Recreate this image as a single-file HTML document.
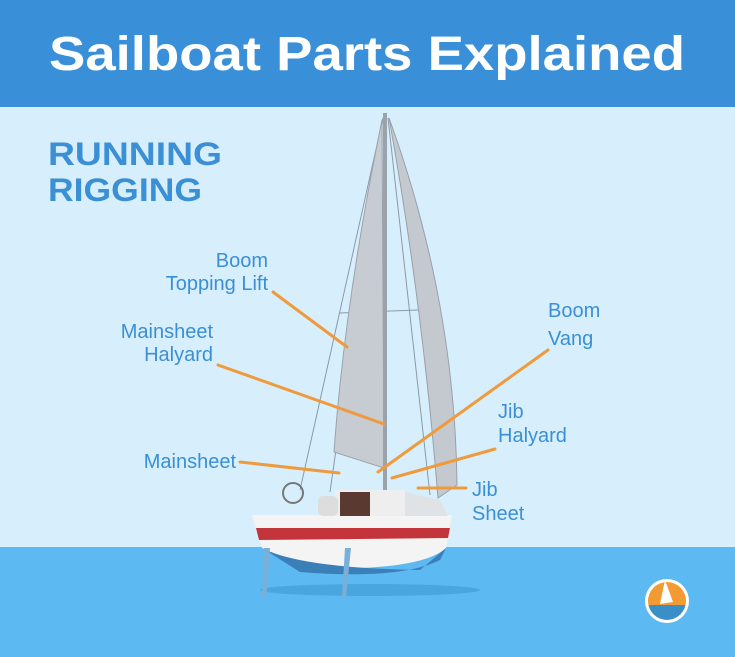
<!DOCTYPE html>
<html><head><style>
html,body{margin:0;padding:0;width:735px;height:657px;overflow:hidden}
svg{display:block}
text{font-family:"Liberation Sans",sans-serif}
</style></head><body>
<svg width="735" height="657" viewBox="0 0 735 657" xmlns="http://www.w3.org/2000/svg">
<rect width="735" height="657" fill="#d7effc"/>
<rect width="735" height="107" fill="#3a90d8"/>
<text x="367" y="70" text-anchor="middle" font-size="48" font-weight="bold" fill="#fff" textLength="636" lengthAdjust="spacingAndGlyphs">Sailboat Parts Explained</text>
<text x="48" y="165" font-size="32" font-weight="bold" fill="#3a8fd5" textLength="174" lengthAdjust="spacingAndGlyphs">RUNNING</text>
<text x="48" y="201" font-size="32" font-weight="bold" fill="#3a8fd5" textLength="154" lengthAdjust="spacingAndGlyphs">RIGGING</text>
<rect y="547" width="735" height="110" fill="#5cb9f1"/>
<ellipse cx="370" cy="590" rx="110" ry="6" fill="#4aa6de"/>
<g stroke="#8a9aa6" stroke-width="1" fill="none">
<line x1="383" y1="118" x2="300" y2="490"/>
<line x1="383" y1="118" x2="330" y2="492"/>
<line x1="388" y1="118" x2="430" y2="495"/>
<line x1="340" y1="313" x2="418" y2="310"/>
</g>
<path d="M382,120 L384,468 L334,452 Q345,300 382,120Z" fill="#c6ccd2" stroke="#9aa3ab"/>
<path d="M389,118 Q455,300 457,485 L438,498 Q422,300 389,118Z" fill="#c3c9cf" stroke="#98a1a9"/>
<rect x="383" y="113" width="4" height="380" fill="#9aa2aa"/>
<path d="M252,515 L452,515 L446,548 Q420,572 300,568 L262,548Z" fill="#f4f4f4"/>
<path d="M256,528 L450,528 L448,538 L259,540Z" fill="#c3353a"/>
<path d="M262,548 Q300,568 420,570 L446,548 L440,560 Q400,580 300,572Z" fill="#3b7fb8"/>
<rect x="335" y="490" width="70" height="26" fill="#eee"/>
<rect x="340" y="492" width="30" height="24" fill="#5a3a30"/>
<path d="M405,492 L440,500 L448,516 L405,516Z" fill="#dfe3e6"/>
<circle cx="293" cy="493" r="10" fill="none" stroke="#777" stroke-width="2"/>
<rect x="318" y="496" width="20" height="20" rx="5" fill="#ddd"/>
<path d="M264,548 L270,548 L266,598 L262,598Z" fill="#7ab0d8"/>
<path d="M345,548 L351,548 L346,598 L342,598Z" fill="#7ab0d8"/>
<g stroke="#ef9a3c" stroke-width="3" fill="none" stroke-linecap="round">
<line x1="273" y1="292" x2="347" y2="347"/>
<line x1="218" y1="365" x2="384" y2="424"/>
<line x1="240" y1="462" x2="339" y2="473"/>
<line x1="548" y1="350" x2="378" y2="472"/>
<line x1="495" y1="449" x2="392" y2="478"/>
<line x1="466" y1="488" x2="418" y2="488"/>
</g>
<g font-size="20" fill="#3a8fd5">
<text x="268" y="267" text-anchor="end">Boom</text>
<text x="268" y="290" text-anchor="end">Topping Lift</text>
<text x="213" y="338" text-anchor="end">Mainsheet</text>
<text x="213" y="361" text-anchor="end">Halyard</text>
<text x="236" y="468" text-anchor="end">Mainsheet</text>
<text x="548" y="317">Boom</text>
<text x="548" y="345">Vang</text>
<text x="498" y="418">Jib</text>
<text x="498" y="442">Halyard</text>
<text x="472" y="496">Jib</text>
<text x="472" y="520">Sheet</text>
</g>
<circle cx="667" cy="601" r="22" fill="#fff"/>
<clipPath id="c"><circle cx="667" cy="601" r="19"/></clipPath>
<g clip-path="url(#c)">
<rect x="645" y="580" width="45" height="25" fill="#f39a33"/>
<rect x="645" y="605" width="45" height="20" fill="#3b8fc9"/>
<path d="M665,580 L673,602 L660,604Z" fill="#fff"/>
</g>
</svg>
</body></html>
